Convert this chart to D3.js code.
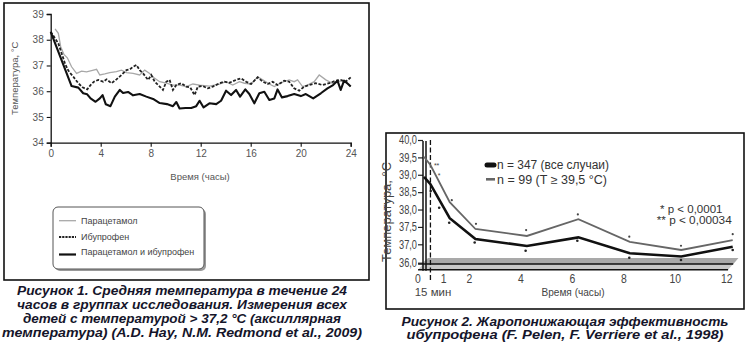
<!DOCTYPE html>
<html><head><meta charset="utf-8">
<script src="https://cdn.jsdelivr.net/npm/d3@7/dist/d3.min.js"></script>
<style>
html,body{margin:0;padding:0;background:#fff;}
svg{display:block;}
</style></head>
<body>
<script>
// ---------- Figure 1 data (hours, °C) ----------
const fig1YTicks = [34, 35, 36, 37, 38, 39];
const fig1XTicks = [0, 4, 8, 12, 16, 20, 24];
const comboT = [0,1.67,2.21,2.60,2.92,3.19,3.59,3.93,4.15,4.41,4.78,5.13,5.53,5.79,6.19,6.59,7.12,7.65,8.19,8.72,9.30,9.78,10.05,10.31,10.79,11.24,11.64,11.91,12.23,12.70,13.24,13.63,14.03,14.43,14.83,15.15,15.57,15.89,16.29,16.69,17.09,17.49,17.89,18.15,18.50,18.95,19.48,20.01,20.41,21.00,21.61,22.14,22.59,22.94,23.20,23.47,23.79,24.00];
const comboV = [38.31,36.20,36.14,35.92,35.88,35.72,35.59,35.72,35.85,35.49,35.42,35.79,36.05,35.93,35.97,35.84,35.89,35.79,35.70,35.54,35.50,35.42,35.58,35.33,35.35,35.35,35.42,35.63,35.37,35.53,35.50,35.63,36.02,35.85,36.05,35.79,36.07,35.89,35.53,35.92,35.98,35.66,35.72,36.07,35.76,35.81,35.89,35.81,35.89,35.72,35.92,36.11,36.24,36.41,36.05,36.41,36.28,36.18];
const ibuT = [0,0.61,1.14,1.41,1.81,2.21,2.55,2.92,3.19,3.46,3.80,4.20,4.47,4.86,5.26,5.66,6.06,6.33,6.59,6.86,7.12,7.39,7.79,8.05,8.32,8.72,8.98,9.25,9.51,9.78,10.05,10.45,10.84,11.16,11.51,11.77,12.17,12.57,12.97,13.50,13.90,14.30,14.83,15.23,15.63,16.03,16.56,16.96,17.36,17.75,18.15,18.68,19.08,19.48,19.88,20.28,20.68,21.21,21.74,22.27,22.80,23.20,23.60,24.00];
const ibuV = [38.31,37.86,37.08,36.80,36.56,36.31,36.15,36.07,36.24,36.37,36.44,36.37,36.46,36.31,36.46,36.63,36.82,36.85,36.95,37.02,36.82,36.69,36.44,36.63,36.37,36.18,36.05,36.37,36.44,36.05,36.24,36.31,36.18,36.15,35.85,36.18,36.20,36.11,36.18,36.31,36.37,36.33,36.44,36.50,36.37,36.28,36.54,36.37,36.28,36.37,36.24,36.41,36.37,36.11,36.02,36.18,36.24,36.31,36.24,36.31,36.41,36.44,36.37,36.54];
const paraT = [0.35,0.61,0.80,1.06,1.33,1.67,2.07,2.47,2.87,3.27,3.67,3.93,4.33,4.73,5.26,5.66,6.06,6.59,7.12,7.52,7.92,8.32,8.72,9.25,9.78,10.31,10.84,11.38,11.91,12.70,13.50,14.03,14.56,15.10,15.50,16.03,16.56,16.96,17.49,17.89,18.42,19.08,19.48,19.75,20.15,20.54,21.08,21.48,22.01,22.54,22.94,23.47,23.87,24.00];
const paraV = [38.42,38.25,37.73,37.43,37.30,36.95,36.69,36.78,36.75,36.80,36.85,36.63,36.67,36.72,36.76,36.82,36.72,36.69,36.63,36.82,36.69,36.50,36.37,36.31,36.24,36.24,36.18,36.28,36.24,36.20,36.28,36.37,36.24,36.37,36.31,36.28,36.56,36.44,36.28,36.18,36.33,36.44,36.37,36.44,36.18,36.24,36.37,36.63,36.44,36.31,36.37,36.41,36.24,36.18];
const fig1Legend = ["Парацетамол", "Ибупрофен", "Парацетамол и ибупрофен"];
const fig1Caption = ["Рисунок 1. Средняя температура в течение 24",
  "часов в группах исследования. Измерения всех",
  "детей с температурой > 37,2 °С (аксиллярная",
  "температура) (A.D. Hay, N.M. Redmond et al., 2009)"];

// ---------- Figure 2 data ----------
const fig2T = [0, 0.25, 1, 2, 4, 6, 8, 10, 12];
const allCases = [38.94, 38.73, 37.75, 37.15, 36.91, 37.20, 36.51, 36.34, 36.87];
const highFever = [39.52, 39.28, 38.21, 37.44, 37.24, 37.72, 37.07, 36.69, 37.12];
const highStarsT = [1.08, 2.02, 3.97, 5.98, 7.98, 9.99, 12.0];
const highStarsV = [38.27, 37.59, 37.41, 37.86, 37.22, 36.92, 37.29];
const allStarsT = [0.26, 0.59, 0.98, 1.97, 3.95, 5.96, 7.98, 9.99, 12.0];
const allStarsV = [38.53, 38.05, 37.62, 37.05, 36.65, 37.10, 36.27, 36.15, 36.69];
const fig2YTicks = [36.0, 37.0, 37.5, 38.0, 38.5, 39.0, 39.5, 40.0];
const fig2XTicks = [0, 1, 2, 4, 6, 8, 10, 12];
const fig2Legend = ["n = 347 (все случаи)", "n = 99 (T ≥ 39,5 °C)"];
const fig2Notes = ["* p < 0,0001", "** p < 0,00034"];
const fig2Caption = ["Рисунок 2. Жаропонижающая эффективность",
  "ибупрофена (F. Pelen, F. Verriere et al., 1998)"];

const svg = d3.select("body").append("svg").attr("width", 749).attr("height", 350);
const SANS = "'Liberation Sans', Arial, sans-serif";

function fitW(sel, w) {
  sel.attr("textLength", w).attr("lengthAdjust", "spacingAndGlyphs");
  return sel;
}

// ================= FIGURE 1 =================
const g1 = svg.append("g");
g1.append("rect").attr("x", 4).attr("y", 3).attr("width", 365).attr("height", 277)
  .attr("fill", "#fff").attr("stroke", "#111").attr("stroke-width", 1.6);

const x1 = d3.scaleLinear().domain([0, 24]).range([50.7, 350.7]);
const y1 = d3.scaleLinear().domain([34, 39]).range([142.7, 14]);

const ax1y = g1.append("g").attr("transform", `translate(${x1(0)},0)`)
  .call(d3.axisLeft(y1).tickValues(fig1YTicks).tickSize(4).tickPadding(3).tickFormat(d3.format("d")));
const ax1x = g1.append("g").attr("transform", `translate(0,${y1(34)})`)
  .call(d3.axisBottom(x1).tickValues(fig1XTicks).tickSize(4).tickPadding(3).tickFormat(d3.format("d")));
[ax1y, ax1x].forEach(a => {
  a.select(".domain").attr("stroke", "#111").attr("stroke-width", 1.3);
  a.selectAll(".tick line").attr("stroke", "#111").attr("stroke-width", 1.1);
  a.selectAll("text").attr("font-family", SANS).attr("font-size", 10).attr("fill", "#555");
});

g1.append("text").attr("x", 200).attr("y", 180).attr("text-anchor", "middle")
  .attr("font-family", SANS).attr("font-size", 9.5).attr("fill", "#555").text("Время (часы)");
g1.append("text").attr("transform", `translate(18,${(y1(34)+y1(39))/2}) rotate(-90)`)
  .attr("text-anchor", "middle").attr("font-family", SANS).attr("font-size", 9.5)
  .attr("fill", "#555").text("Температура, °С");

const line1 = d3.line().x(d => x1(d[0])).y(d => y1(d[1]));
const zip = (a, b) => a.map((v, i) => [v, b[i]]);
g1.append("path").datum(zip(paraT, paraV)).attr("d", line1)
  .attr("fill", "none").attr("stroke", "#a8a8a8").attr("stroke-width", 1.3);
g1.append("path").datum(zip(ibuT, ibuV)).attr("d", line1)
  .attr("fill", "none").attr("stroke", "#222").attr("stroke-width", 1.8).attr("stroke-dasharray", "3,1.6");
g1.append("path").datum(zip(comboT, comboV)).attr("d", line1)
  .attr("fill", "none").attr("stroke", "#111").attr("stroke-width", 2.1).attr("stroke-linejoin", "round");

// legend
const lg1 = g1.append("g");
lg1.append("rect").attr("x", 55).attr("y", 209).attr("width", 151).attr("height", 62).attr("rx", 5)
  .attr("fill", "#9a9a9a");
lg1.append("rect").attr("x", 53).attr("y", 207).attr("width", 151).attr("height", 62).attr("rx", 5)
  .attr("fill", "#fff").attr("stroke", "#555").attr("stroke-width", 1);
const lgStyles = [
  {stroke: "#a8a8a8", w: 1.3, dash: null, ly: 220.7, ty: 220.7},
  {stroke: "#222", w: 2, dash: "2.2,1", ly: 237, ty: 237},
  {stroke: "#111", w: 2.2, dash: null, ly: 254.5, ty: 251.7}
];
fig1Legend.forEach((name, i) => {
  const s = lgStyles[i];
  lg1.append("line").attr("x1", 59).attr("x2", 76).attr("y1", s.ly).attr("y2", s.ly)
    .attr("stroke", s.stroke).attr("stroke-width", s.w).attr("stroke-dasharray", s.dash);
  lg1.append("text").attr("x", 81).attr("y", s.ty + 3.3).attr("font-family", SANS)
    .attr("font-size", 9).attr("fill", "#444").text(name);
});

// caption 1
const cap1Widths = [330, 330, 318, 360];
fig1Caption.forEach((t, i) => {
  svg.append("text").attr("x", 182).attr("y", 295.3 + i * 14).attr("text-anchor", "middle")
    .attr("font-family", SANS).attr("font-weight", "bold").attr("font-style", "italic")
    .attr("font-size", 13).attr("fill", "#15152a")
    .attr("textLength", cap1Widths[i]).attr("lengthAdjust", "spacingAndGlyphs").text(t);
});

// ================= FIGURE 2 =================
const g2 = svg.append("g");
g2.append("rect").attr("x", 386).attr("y", 133).attr("width", 358).attr("height", 176)
  .attr("fill", "#fff").attr("stroke", "#111").attr("stroke-width", 1.6);

const x2 = d3.scaleLinear().domain([0, 12]).range([424, 732.7]);
const y2 = d3.scaleLinear().domain([36, 37, 40]).range([262.7, 244.3, 140]);

// floor band (3D-like base)
const bTop = y2(36.25), bMid = y2(35.93), bBot = y2(35.62);
g2.append("path").attr("d",
  `M${x2(0.16)},${bTop} L${x2(12.22)},${bTop} L${x2(11.82)},${bBot} L${x2(-0.23)},${bBot} Z`)
  .attr("fill", "#c8c8c8");
g2.append("path").attr("d",
  `M${x2(0.16)},${bTop} L${x2(12.22)},${bTop} L${x2(12.02)},${bMid} L${x2(-0.1)},${bMid} Z`)
  .attr("fill", "#a9a9a9");
g2.append("line").attr("x1", x2(-0.23)).attr("x2", x2(12.02)).attr("y1", bMid).attr("y2", bMid)
  .attr("stroke", "#111").attr("stroke-width", 1.4);
g2.append("line").attr("x1", x2(-0.23)).attr("x2", x2(11.82)).attr("y1", bBot).attr("y2", bBot)
  .attr("stroke", "#111").attr("stroke-width", 1.6);

// y axis (double line)
const ax2 = g2.append("g").attr("transform", `translate(${x2(0) - 1},0)`)
  .call(d3.axisLeft(y2).tickValues(fig2YTicks).tickSize(5).tickPadding(1)
    .tickFormat(d => d3.format(".1f")(d).replace(".", ",")));
ax2.select(".domain").remove();
ax2.selectAll(".tick line").attr("stroke", "#222").attr("stroke-width", 1.2);
fitW(ax2.selectAll("text").attr("font-family", SANS).attr("font-size", 12).attr("fill", "#444"), 18);
[x2(0) - 1, x2(0) + 2].forEach(xx => {
  g2.append("line").attr("x1", xx).attr("x2", xx).attr("y1", y2(40) + 1).attr("y2", bBot + 1)
    .attr("stroke", "#111").attr("stroke-width", 1.5);
});
// 15 min dashed line
g2.append("line").attr("x1", x2(0.25)).attr("x2", x2(0.25)).attr("y1", y2(40)).attr("y2", 282)
  .attr("stroke", "#111").attr("stroke-width", 1.3).attr("stroke-dasharray", "5,2.5");

// x tick labels
g2.selectAll("text.xl").data(fig2XTicks).join("text").attr("class", "xl")
  .attr("x", d => x2(d) - 6).attr("y", 283.3).attr("text-anchor", "middle")
  .attr("font-family", SANS).attr("font-size", 12).attr("fill", "#444").text(d => d)
  .attr("textLength", d => String(d).length * 5.8).attr("lengthAdjust", "spacingAndGlyphs");
fitW(g2.append("text").attr("x", 433).attr("y", 295.8).attr("text-anchor", "middle")
  .attr("font-family", SANS).attr("font-size", 11.5).attr("fill", "#444").text("15 мин"), 36.5);
fitW(g2.append("text").attr("x", 573).attr("y", 295.8).attr("text-anchor", "middle")
  .attr("font-family", SANS).attr("font-size", 11.5).attr("fill", "#444").text("Время (часы)"), 63);
fitW(g2.append("text").attr("transform", `translate(391,212) rotate(-90)`).attr("text-anchor", "middle")
  .attr("font-family", SANS).attr("font-size", 12).attr("fill", "#444").text("Температура, °С"), 100);

const line2 = d3.line().x(d => x2(d[0])).y(d => y2(d[1]));
g2.append("path").datum(zip(fig2T, highFever)).attr("d", line2)
  .attr("fill", "none").attr("stroke", "#666").attr("stroke-width", 1.8);
g2.append("path").datum(zip(fig2T, allCases)).attr("d", line2)
  .attr("fill", "none").attr("stroke", "#111").attr("stroke-width", 2.6);

g2.selectAll("circle.hs").data(zip(highStarsT, highStarsV)).join("circle").attr("class", "hs")
  .attr("cx", d => x2(d[0])).attr("cy", d => y2(d[1])).attr("r", 1.1).attr("fill", "#444");
g2.selectAll("circle.as").data(zip(allStarsT, allStarsV)).join("circle").attr("class", "as")
  .attr("cx", d => x2(d[0])).attr("cy", d => y2(d[1])).attr("r", 1.3).attr("fill", "#222");
g2.append("text").attr("x", x2(0.49)).attr("y", y2(39.31) + 4).attr("text-anchor", "middle")
  .attr("font-family", SANS).attr("font-size", 7).attr("fill", "#444").text("**");
g2.append("text").attr("x", x2(0.59)).attr("y", y2(39.01) + 4).attr("text-anchor", "middle")
  .attr("font-family", SANS).attr("font-size", 7).attr("fill", "#444").text("*");

// legend 2
g2.append("line").attr("x1", 487).attr("x2", 494).attr("y1", 165).attr("y2", 165)
  .attr("stroke", "#111").attr("stroke-width", 5).attr("stroke-linecap", "round");
g2.append("line").attr("x1", 486).attr("x2", 495).attr("y1", 179.3).attr("y2", 179.3)
  .attr("stroke", "#666").attr("stroke-width", 2.6);
const legW = [112, 110];
fig2Legend.forEach((t, i) => {
  fitW(g2.append("text").attr("x", 497).attr("y", 169.3 + i * 14.3).attr("font-family", SANS)
    .attr("font-size", 12).attr("fill", "#333").text(t), legW[i]);
});
fitW(g2.append("text").attr("x", 660).attr("y", 213.3).attr("font-family", SANS)
  .attr("font-size", 11.5).attr("fill", "#333").text(fig2Notes[0]), 62.5);
fitW(g2.append("text").attr("x", 656.7).attr("y", 224.2).attr("font-family", SANS)
  .attr("font-size", 11.5).attr("fill", "#333").text(fig2Notes[1]), 75);

// caption 2
const cap2Widths = [327, 317];
fig2Caption.forEach((t, i) => {
  svg.append("text").attr("x", 565).attr("y", 325.8 + i * 13.4).attr("text-anchor", "middle")
    .attr("font-family", SANS).attr("font-weight", "bold").attr("font-style", "italic")
    .attr("font-size", 12.5).attr("fill", "#15152a")
    .attr("textLength", cap2Widths[i]).attr("lengthAdjust", "spacingAndGlyphs").text(t);
});
</script>
</body></html>
